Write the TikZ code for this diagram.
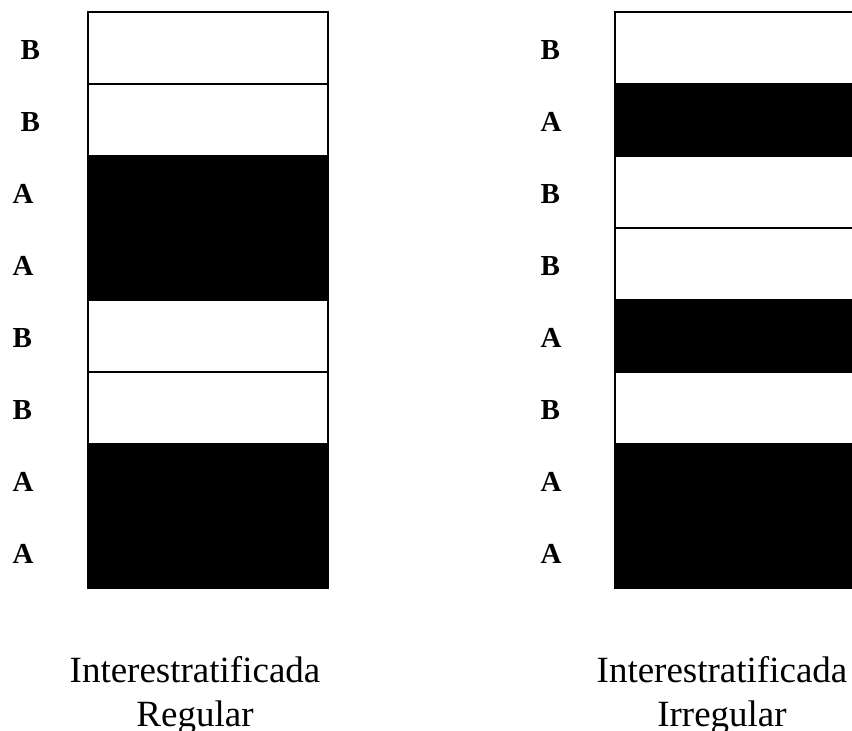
\documentclass[tikz,border=0pt]{standalone}
\usepackage{fontspec}
\setmainfont{Liberation Serif}
\tikzset{
  layerB/.style={draw, fill=white, line width=1.2pt, minimum width=240pt, minimum height=72pt, inner sep=0pt},
  layerA/.style={layerB, fill=black},
  letter/.style={anchor=west, inner sep=0pt, font=\fontsize{29}{29}\selectfont\bfseries},
  caption/.style={align=center, anchor=base, inner sep=0pt, font=\fontsize{37}{44}\selectfont}
}
\begin{document}
\begin{tikzpicture}[x=1pt,y=-1pt]
  \useasboundingbox (0,0) rectangle (852,731);
  \clip (0,0) rectangle (852,731);

  % regular stacking
  \foreach \t/\x [count=\i] in {B/20.5,B/20.5,A/12.5,A/12.5,B/12.5,B/12.5,A/12.5,A/12.5} {
    \node[layer\t] at (208,{48+72*(\i-1)}) (reg\i) {};
    \node[letter] at (\x,{50+72*(\i-1)}) (reglab\i) {\t};
  }

  % irregular stacking
  \foreach \t [count=\i] in {B,A,B,B,A,B,A,A} {
    \node[layer\t] at (735,{48+72*(\i-1)}) (irr\i) {};
    \node[letter] at (540.5,{50+72*(\i-1)}) (irrlab\i) {\t};
  }

  % captions
  \node[caption] at (195,726) (regcap) {Interestratificada\\Regular};
  \node[caption] at (722,726) (irrcap) {Interestratificada\\Irregular};
\end{tikzpicture}
\end{document}
